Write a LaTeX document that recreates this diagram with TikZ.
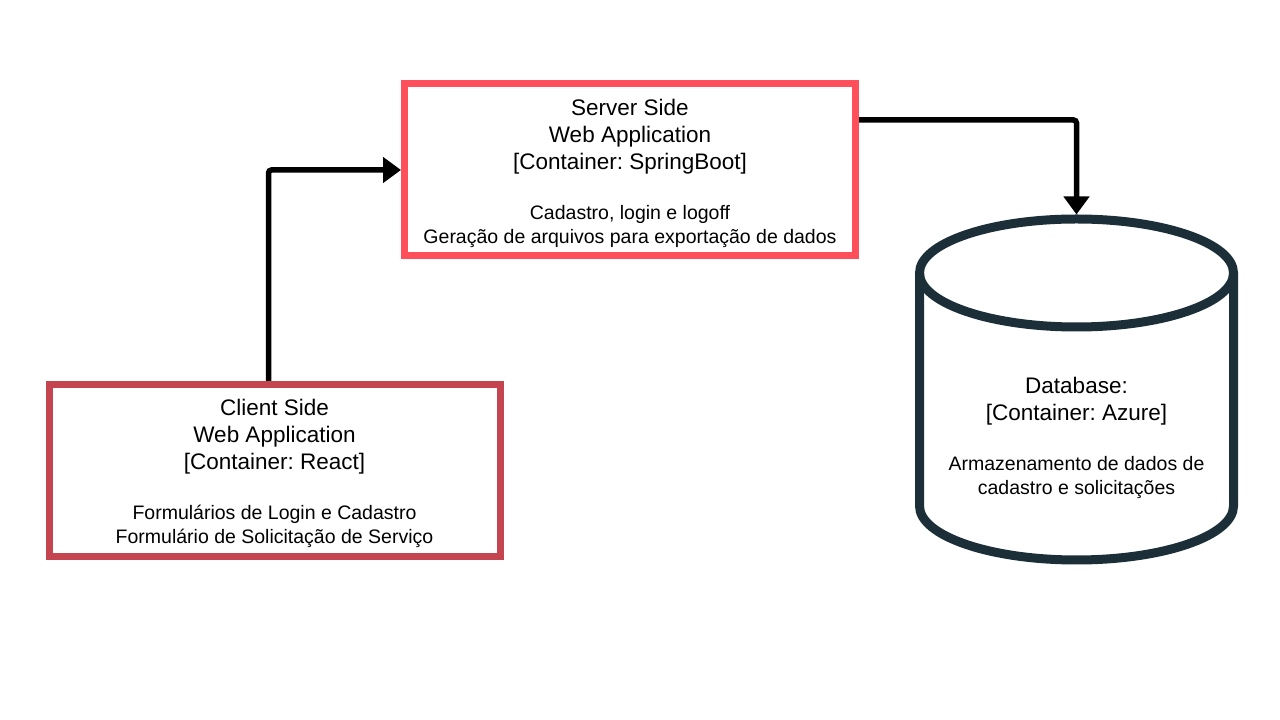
\documentclass[tikz,border=0pt]{standalone}
\usepackage{fontspec}
\setmainfont{Liberation Sans}
\usetikzlibrary{arrows.meta, positioning, calc}
\definecolor{bServer}{RGB}{255, 79, 90}
\definecolor{bClient}{RGB}{196, 69, 80}
\definecolor{bData}{RGB}{28, 47, 56}
\newcommand{\titlefont}{\fontsize{22.5}{27}\selectfont}
\newcommand{\descfont}{\fontsize{19.5}{24}\selectfont}
\frenchspacing

\begin{document}
\begin{tikzpicture}[
    x=1pt, y=1pt,
    font=\titlefont,
    >={Triangle[length=18pt, width=25pt]},
    container/.style={
        draw=#1,
        line width=7pt,
        align=center,
        minimum width=451pt,
        minimum height=172pt,
        inner sep=0pt
    },
    arrow/.style={->, line width=5.5pt, color=black, rounded corners=3pt},
    dbline/.style={draw=bData, line width=9pt}
]

\useasboundingbox[fill=white] (0,0) rectangle (1280,720);

% Server side
\node[container=bServer] (server) at (630, 550) {
    \rule{0pt}{23pt}Server Side\\
    Web Application\\
    {}[Container: SpringBoot]\\[23pt]
    {\descfont Cadastro, login e logoff}\\[-3pt]
    {\descfont Geração de arquivos para exportação de dados}
};

% Client side
\node[container=bClient] (client) at (274.5, 249.5) {
    \rule{0pt}{23pt}Client Side\\
    Web Application\\
    {}[Container: React]\\[23pt]
    {\descfont Formulários de Login e Cadastro}\\[-3pt]
    {\descfont Formulário de Solicitação de Serviço}
};

% Database
\draw[dbline] (1076.5, 447) ellipse [x radius=157, y radius=54];
\draw[dbline] (919.5, 447) -- (919.5, 214)
    arc[start angle=180, end angle=360, x radius=157, y radius=54] -- (1233.5, 447);
\coordinate (dbtop) at (1076.5, 505.5);

\node[align=center] (db) at (1076.5, 282) {
    Database:\\
    {}[Container: Azure]\\[23pt]
    {\descfont Armazenamento de dados de}\\[-3pt]
    {\descfont cadastro e solicitações}
};

\draw[arrow] ([xshift=-6pt]client.north) |- (server.west);
\draw[arrow] ([yshift=50pt]server.east) -| (dbtop);

\end{tikzpicture}
\end{document}
